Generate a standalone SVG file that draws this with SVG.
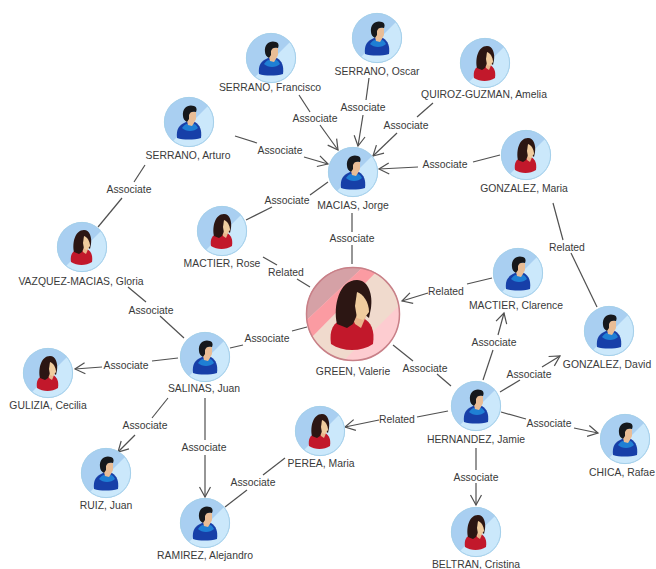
<svg xmlns="http://www.w3.org/2000/svg" width="656" height="569" viewBox="0 0 656 569">
<style>
text{font-family:"Liberation Sans",Arial,sans-serif;font-size:10.4px;fill:#3a3a3a;text-anchor:middle}
.c line{stroke:#505050;stroke-width:1.2;fill:none}
.a{marker-end:url(#arr)}
</style>
<defs>
<marker id="arr" markerUnits="userSpaceOnUse" markerWidth="14" markerHeight="14" refX="11" refY="7" orient="auto"><path d="M1,1.5 L11,7 L1,12.5" fill="none" stroke="#505050" stroke-width="1.2"/></marker>
<clipPath id="cp"><circle r="25"/></clipPath>
<clipPath id="cg"><circle r="47"/></clipPath>
<g id="disc"><circle r="25" fill="#a9cff1"/><path d="M28,-25 L-25,28 L28,28Z" fill="#cbe8fb" clip-path="url(#cp)"/><circle r="24.6" fill="none" stroke="#a5d0ea" stroke-width="1"/></g>
<g id="man">
<path d="M-12,16 C-13,7 -10,3 -3,0 L6,0 C11,3 13,8 12,16 C5,18 -6,18 -12,16Z" fill="#173fa8"/>
<path d="M-7,6 C-4,2 -2,1 0,3 L3,3 C5,1 7,2 9,6 C5,10 -3,10 -7,6Z" fill="#1f7fd4"/>
<path d="M-3,-10 L7,-10 L7,-3 L5,1 L3,4 L-1,3 L-2,-1Z" fill="#e9bd96"/>
<path d="M-6,-6 C-7,-14 -1,-18 5,-16 C8,-15 8,-12 7,-10 C3,-11 1,-10 0,-7 L0,-3 L-2,0 C-4,-1 -6,-3 -6,-6Z" fill="#16181c"/>
</g>
<g id="woman">
<path d="M-11,15 C-12,8 -10,4 -4,2 L5,2 C9,4 11,8 10,15 C4,19 -5,19 -11,15Z" fill="#c2182b"/>
<path d="M-1,0 L7,0 L4,7 L1,5Z" fill="#e9b48c"/>
<path d="M-8,5 C-10,-4 -7,-17 2,-17 C8,-17 10,-9 9,-3 L8,2 L3,-2 L0,5 L-3,7Z" fill="#2c1613"/>
<path d="M2,-11 C5,-10 8,-6 8,-1 L5,3 L2,2 L1,-4Z" fill="#f0cc9e"/>
</g>
</defs>
<rect width="656" height="569" fill="#fff"/>
<g id="connectors" class="c">
<line x1="299" y1="95" x2="310" y2="112"/><line class="a" x1="320" y1="125" x2="338" y2="150"/>
<line x1="369" y1="78" x2="366" y2="100"/><line class="a" x1="363" y1="115" x2="358" y2="146"/>
<line x1="433" y1="103" x2="417" y2="117"/><line class="a" x1="397" y1="133" x2="373" y2="156"/>
<line x1="235" y1="136" x2="257" y2="143"/><line class="a" x1="304" y1="157" x2="328" y2="164"/>
<line x1="500" y1="155" x2="473" y2="162"/><line class="a" x1="418" y1="167" x2="379" y2="169"/>
<line x1="246" y1="220" x2="272" y2="207"/><line x1="310" y1="195" x2="328" y2="182"/>
<line x1="352" y1="213" x2="352" y2="232"/><line x1="352" y1="245" x2="352" y2="264"/>
<line x1="263" y1="257" x2="277" y2="265"/><line x1="297" y1="279" x2="310" y2="287"/>
<line x1="467" y1="284" x2="492" y2="278"/><line class="a" x1="428" y1="293" x2="402" y2="301"/>
<line x1="553" y1="203" x2="563" y2="240"/><line x1="571" y1="253" x2="597" y2="307"/>
<line x1="145" y1="165" x2="134" y2="182"/><line x1="122" y1="198" x2="98" y2="227"/>
<line x1="128" y1="287" x2="146" y2="302"/><line x1="160" y1="316" x2="184" y2="338"/>
<line x1="230" y1="348" x2="243" y2="345"/><line x1="292" y1="331" x2="307" y2="327"/>
<line x1="178" y1="358" x2="152" y2="361"/><line class="a" x1="102" y1="367" x2="75" y2="369"/>
<line x1="168" y1="398" x2="152" y2="418"/><line class="a" x1="135" y1="435" x2="118" y2="452"/>
<line x1="205" y1="398" x2="205" y2="440"/><line class="a" x1="205" y1="455" x2="205" y2="497"/>
<line x1="285" y1="458" x2="263" y2="475"/><line x1="247" y1="490" x2="225" y2="507"/>
<line x1="448" y1="411" x2="417" y2="417"/><line class="a" x1="379" y1="420" x2="345" y2="427"/>
<line x1="393" y1="345" x2="413" y2="361"/><line x1="437" y1="374" x2="451" y2="386"/>
<line x1="483" y1="380" x2="493" y2="350"/><line class="a" x1="498" y1="335" x2="504" y2="313"/>
<line x1="500" y1="392" x2="520" y2="380"/><line class="a" x1="542" y1="367" x2="560" y2="356"/>
<line x1="501" y1="412" x2="526" y2="419"/><line class="a" x1="574" y1="428" x2="598" y2="433"/>
<line x1="476" y1="448" x2="476" y2="470"/><line class="a" x1="476" y1="483" x2="476" y2="505"/>
</g>
<g id="connector-labels">
<text x="315" y="122">Associate</text><text x="363" y="111">Associate</text><text x="406" y="129">Associate</text>
<text x="280" y="154">Associate</text><text x="445" y="168">Associate</text><text x="287" y="204">Associate</text>
<text x="352" y="242">Associate</text><text x="286" y="276">Related</text><text x="446" y="295">Related</text>
<text x="567" y="251">Related</text><text x="129" y="193">Associate</text><text x="151" y="314">Associate</text>
<text x="267" y="342">Associate</text><text x="126" y="369">Associate</text><text x="145" y="429">Associate</text>
<text x="204" y="451">Associate</text><text x="253" y="486">Associate</text><text x="397" y="423">Related</text>
<text x="425" y="372">Associate</text><text x="494" y="346">Associate</text><text x="529" y="378">Associate</text>
<text x="549" y="427">Associate</text><text x="476" y="481">Associate</text>
</g>
<g id="n-francisco" transform="translate(271,58)"><use href="#disc"/><use href="#man"/><text x="-1" y="33">SERRANO, Francisco</text></g>
<g id="n-oscar" transform="translate(377,38)"><use href="#disc"/><use href="#man"/><text y="37">SERRANO, Oscar</text></g>
<g id="n-amelia" transform="translate(485,63)"><use href="#disc"/><use href="#woman"/><text x="-1" y="35">QUIROZ-GUZMAN, Amelia</text></g>
<g id="n-arturo" transform="translate(189,122)"><use href="#disc"/><use href="#man"/><text x="-1" y="37">SERRANO, Arturo</text></g>
<g id="n-jorge" transform="translate(353,172)"><use href="#disc"/><use href="#man"/><text y="37">MACIAS, Jorge</text></g>
<g id="n-maria-g" transform="translate(526,155)"><use href="#disc"/><use href="#woman"/><text x="-2" y="37">GONZALEZ, Maria</text></g>
<g id="n-rose" transform="translate(222,231)"><use href="#disc"/><use href="#woman"/><text y="36">MACTIER, Rose</text></g>
<g id="n-gloria" transform="translate(82,247)"><use href="#disc"/><use href="#woman"/><text x="-1" y="38">VAZQUEZ-MACIAS, Gloria</text></g>
<g id="n-valerie" transform="translate(353,314)">
<circle r="47" fill="#fdccd0"/>
<g clip-path="url(#cg)"><path d="M40,-59 L60,-59 L60,-22 L-25,62 L-50,32Z" fill="#f0dacd"/><path d="M25,-61 L-60,19 L-60,-61Z" fill="#d5a1a6"/><path d="M25,-61 L-60,19 L-50,32 L40,-59Z" fill="#fb9ba2"/></g>
<circle r="46.5" fill="none" stroke="#c88088" stroke-width="1.5"/>
<use href="#woman" transform="scale(2)"/>
<text y="61">GREEN, Valerie</text></g>
<g id="n-clarence" transform="translate(518,273)"><use href="#disc"/><use href="#man"/><text x="-2" y="36">MACTIER, Clarence</text></g>
<g id="n-david" transform="translate(609,331)"><use href="#disc"/><use href="#man"/><text x="-2" y="37">GONZALEZ, David</text></g>
<g id="n-juan-s" transform="translate(205,357)"><use href="#disc"/><use href="#man"/><text x="-1" y="35">SALINAS, Juan</text></g>
<g id="n-cecilia" transform="translate(48,373)"><use href="#disc"/><use href="#woman"/><text y="36">GULIZIA, Cecilia</text></g>
<g id="n-jamie" transform="translate(476,406)"><use href="#disc"/><use href="#man"/><text y="37">HERNANDEZ, Jamie</text></g>
<g id="n-maria-p" transform="translate(320,431)"><use href="#disc"/><use href="#woman"/><text x="1" y="36">PEREA, Maria</text></g>
<g id="n-rafael" transform="translate(625,439)"><use href="#disc"/><use href="#man"/><text x="-3" y="37">CHICA, Rafae</text></g>
<g id="n-juan-r" transform="translate(106,473)"><use href="#disc"/><use href="#man"/><text y="36">RUIZ, Juan</text></g>
<g id="n-alejandro" transform="translate(205,523)"><use href="#disc"/><use href="#man"/><text y="36">RAMIREZ, Alejandro</text></g>
<g id="n-cristina" transform="translate(476,532)"><use href="#disc"/><use href="#woman"/><text y="36">BELTRAN, Cristina</text></g>
</svg>
